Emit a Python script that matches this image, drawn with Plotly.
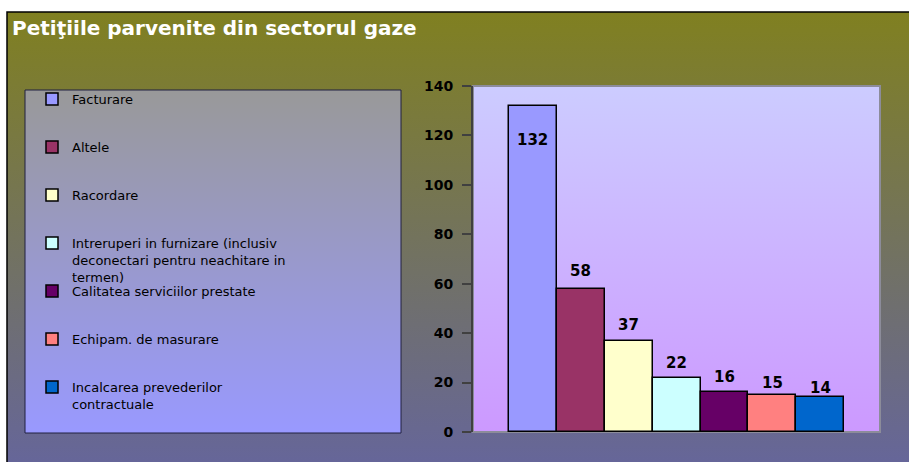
import base64
import plotly.graph_objects as go

# ---------------- data ----------------
categories = [
    "Facturare",
    "Altele",
    "Racordare",
    "Intreruperi in furnizare (inclusiv<br>deconectari pentru neachitare in<br>termen)",
    "Calitatea serviciilor prestate",
    "Echipam. de masurare",
    "Incalcarea prevederilor<br>contractuale",
]
values = [132, 58, 37, 22, 16, 15, 14]
bar_colors = ["#9999FF", "#993366", "#FFFFCC", "#CCFFFF", "#660066", "#FF8080", "#0066CC"]
y_ticks = [0, 20, 40, 60, 80, 100, 120, 140]
title_text = "Petiţiile parvenite din sectorul gaze"

# label offsets (px) from bar top to label centre, as in the reference
label_offsets = [-34, 18, 16, 15, 15, 12, 9]

# ---------------- geometry ----------------
W, H = 909, 462
PL, PR, PT, PB = 473, 880, 86, 432  # plot area in pixels


def px_x(px):
    return (px - PL) / (PR - PL)


def px_y(py):
    return (PB - py) / (PB - PT)


def grad_uri(c1, c2):
    svg = (
        '<svg xmlns="http://www.w3.org/2000/svg" width="100" height="100" '
        'viewBox="0 0 100 100" preserveAspectRatio="none">'
        '<defs><linearGradient id="g" x1="0" y1="0" x2="0" y2="1">'
        f'<stop offset="0" stop-color="{c1}"/><stop offset="1" stop-color="{c2}"/>'
        '</linearGradient></defs><rect width="100" height="100" fill="url(#g)"/></svg>'
    )
    return "data:image/svg+xml;base64," + base64.b64encode(svg.encode()).decode()


def box_image(x0, y0, x1, y1, c1, c2):
    return dict(
        source=grad_uri(c1, c2), xref="paper", yref="paper",
        x=px_x(x0), y=px_y(y0), sizex=px_x(x1) - px_x(x0), sizey=px_y(y0) - px_y(y1),
        xanchor="left", yanchor="top", sizing="stretch", layer="below",
    )


FONT = "DejaVu Sans"

fig = go.Figure()
for i, (name, val, col) in enumerate(zip(categories, values, bar_colors)):
    fig.add_trace(go.Bar(
        x=[name], y=[val], name=name, showlegend=True,
        marker=dict(color=col, line=dict(color="#000000", width=1.5)),
        legend="legend" if i == 0 else f"legend{i + 1}",
        hoverinfo="name+y",
    ))

# value labels
annotations = []
for name, val, off in zip(categories, values, label_offsets):
    annotations.append(dict(
        x=name, y=val, xref="x", yref="y", text=str(val), showarrow=False,
        yanchor="middle", yshift=off,
        font=dict(family=FONT, size=15, color="#000000", weight="bold"),
    ))

# legends (one per entry so every entry can sit at its own row)
legend_first_y = 99
legend_step = 48
legends = {}
for i in range(len(categories)):
    key = "legend" if i == 0 else f"legend{i + 1}"
    legends[key] = dict(
        x=px_x(32), y=px_y(legend_first_y + legend_step * i - 15),
        xanchor="left", yanchor="top", valign="top",
        bgcolor="rgba(0,0,0,0)", borderwidth=0, visible=True,
        font=dict(family=FONT, size=13, color="#000000"),
    )

images = [
    box_image(7, 12, 909, 462, "#808020", "#666699"),   # chart background
    box_image(25, 90, 401, 433, "#999999", "#9999FF"),  # legend box
    box_image(PL, PT, PR, PB, "#CCCCFF", "#CC99FF"),    # plot area
]

shapes = [
    dict(type="rect", xref="paper", yref="paper", layer="below",
         x0=px_x(7), x1=px_x(911), y0=px_y(12), y1=px_y(464),
         line=dict(color="#000000", width=1.5), fillcolor="rgba(0,0,0,0)"),
    dict(type="rect", xref="paper", yref="paper", layer="below",
         x0=px_x(25), x1=px_x(401), y0=px_y(90), y1=px_y(433),
         line=dict(color="#202040", width=1), fillcolor="rgba(0,0,0,0)"),
    dict(type="rect", xref="paper", yref="paper", layer="below",
         x0=0, x1=1, y0=0, y1=1,
         line=dict(color="#8C8C9A", width=2), fillcolor="rgba(0,0,0,0)"),
]

fig.update_layout(
    width=W, height=H,
    margin=dict(l=PL, r=W - PR, t=PT, b=H - PB, pad=0),
    paper_bgcolor="#FFFFFF",
    plot_bgcolor="rgba(0,0,0,0)",
    showlegend=True,
    barmode="overlay", bargap=0,
    title=dict(
        text=title_text, xref="container", yref="container",
        x=12 / W, y=1 - 28 / H, xanchor="left", yanchor="middle",
        font=dict(family=FONT, size=20, color="#FFFFFF", weight="bold"),
    ),
    xaxis=dict(
        type="category", range=[-1.24, 7.24], showticklabels=False, ticks="",
        showgrid=False, zeroline=False, showline=False, fixedrange=True,
    ),
    yaxis=dict(
        range=[0, 140], tickvals=y_ticks, ticks="outside", ticklen=9, tickwidth=1.5,
        tickcolor="#404040", showline=True, linecolor="#404040", linewidth=2,
        showgrid=False, zeroline=False, ticklabelstandoff=6,
        tickfont=dict(family=FONT, size=14, color="#000000", weight="bold"),
        fixedrange=True,
    ),
    images=images,
    shapes=shapes,
    annotations=annotations,
    **legends,
)

fig.write_html(
    "out.html",
    config={"displayModeBar": False},
    post_script="document.body.style.margin='0px';document.body.style.padding='0px';",
)
